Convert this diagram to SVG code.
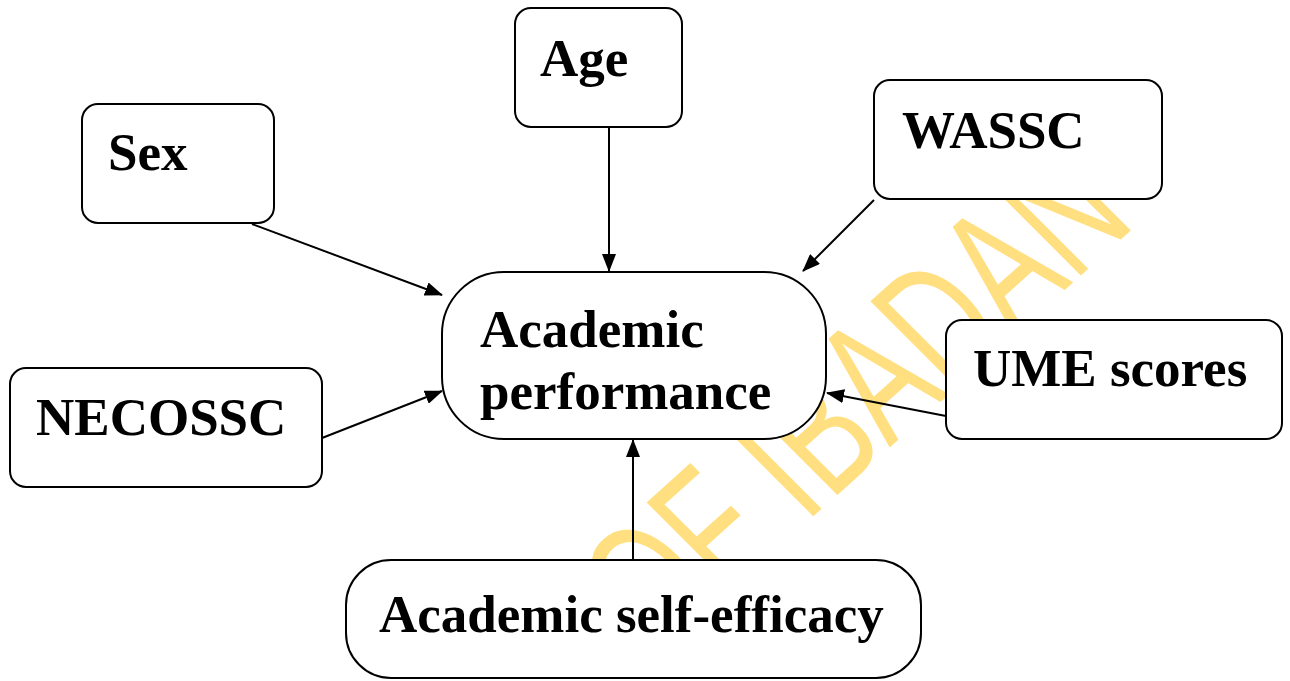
<svg xmlns="http://www.w3.org/2000/svg" width="1290" height="681" viewBox="0 0 1290 681">
<style>
.box{fill:#fff;stroke:#000;stroke-width:2}
.lbl{font-family:"Liberation Serif","Times New Roman",serif;font-weight:bold;font-size:53px;fill:#000}
.conn line{stroke:#000;stroke-width:2;marker-end:url(#ah)}
.wm{font-family:"Liberation Sans",Arial,sans-serif;font-size:177px;fill:#FFDF80}
</style>
<defs>
<marker id="ah" markerUnits="userSpaceOnUse" markerWidth="18" markerHeight="14" refX="17" refY="7" orient="auto">
<path d="M0,0 L18,7 L0,14 Z" fill="#000"/>
</marker>
</defs>
<rect width="1290" height="681" fill="#fff"/>
<g id="watermark">
<text class="wm" transform="translate(656,658) rotate(-42) skewX(3) scale(0.68,1)">OF IBADAN</text>
</g>
<g id="connectors" class="conn">
<line x1="609" y1="127" x2="609" y2="271"/>
<line x1="252" y1="224" x2="442" y2="295"/>
<line x1="874" y1="200" x2="803" y2="271"/>
<line x1="322" y1="438" x2="442" y2="391"/>
<line x1="946" y1="416" x2="827" y2="393"/>
<line x1="633" y1="560" x2="633" y2="440"/>
</g>
<g id="age"><rect class="box" x="515" y="8" width="167" height="119" rx="16"/><text class="lbl" x="540" y="76">Age</text></g>
<g id="sex"><rect class="box" x="82" y="104" width="192" height="119" rx="16"/><text class="lbl" x="108" y="170">Sex</text></g>
<g id="wassc"><rect class="box" x="874" y="80" width="288" height="119" rx="16"/><text class="lbl" x="902" y="148">WASSC</text></g>
<g id="academic-performance"><rect class="box" x="442" y="272" width="384" height="167" rx="62"/><text class="lbl" x="480" y="347">Academic</text><text class="lbl" x="480" y="409">performance</text></g>
<g id="ume"><rect class="box" x="946" y="320" width="336" height="119" rx="16"/><text class="lbl" x="973" y="386">UME scores</text></g>
<g id="necossc"><rect class="box" x="10" y="368" width="312" height="119" rx="16"/><text class="lbl" x="36" y="435">NECOSSC</text></g>
<g id="self-efficacy"><rect class="box" x="346" y="560" width="575" height="118" rx="45"/><text class="lbl" x="379" y="632">Academic self-efficacy</text></g>
</svg>
